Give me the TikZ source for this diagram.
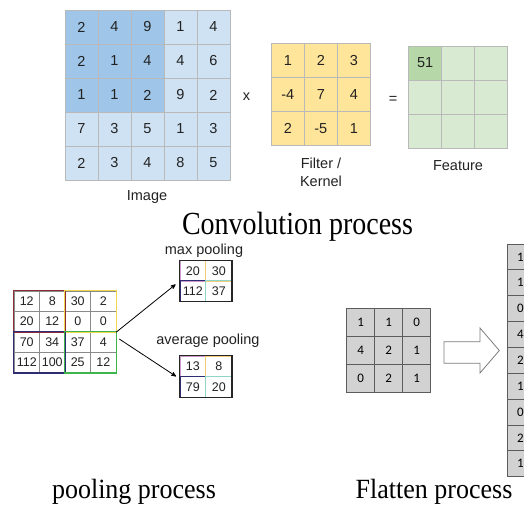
\documentclass[tikz,border=0pt]{standalone}
\usepackage{fontspec}
\setmainfont{Liberation Serif}
\setsansfont{Liberation Sans}
\newfontfamily\calibri{Carlito}
\usepackage{tikz}
\usetikzlibrary{arrows}

\definecolor{imgdark}{HTML}{9FC5E8}
\definecolor{imglight}{HTML}{CFE2F3}
\definecolor{filtyel}{HTML}{FFE599}
\definecolor{featlight}{HTML}{D9EAD3}
\definecolor{featdark}{HTML}{B6D7A8}
\definecolor{gridgray}{HTML}{B9B9B9}
\definecolor{txtgray}{HTML}{222222}
\definecolor{poolred}{HTML}{8E2C3A}
\definecolor{poolyel}{HTML}{F0D64C}
\definecolor{poolblue}{HTML}{2F2C74}
\definecolor{poolgreen}{HTML}{3DB54A}
\definecolor{mpink}{HTML}{C99AC9}
\definecolor{myel}{HTML}{F2CC7A}
\definecolor{mteal}{HTML}{8FD6C8}
\definecolor{poolline}{HTML}{8A8A8A}
\definecolor{flatgray}{HTML}{D2D2D2}
\definecolor{flatline}{HTML}{5C5C5C}

\tikzset{
  convcell/.style={draw=gridgray, line width=0.8pt, minimum width=33pt, minimum height=34pt,
    inner sep=0pt, text=txtgray, font=\sffamily\fontsize{14.5}{16}\selectfont},
  lbl/.style={inner sep=0.75pt, text=txtgray, font=\sffamily\fontsize{14.5}{18}\selectfont},
  poolcell/.style={draw=poolline, line width=0.6pt, minimum width=25.5pt, minimum height=20.4pt,
    inner sep=0pt, text=txtgray, font=\sffamily\fontsize{12.5}{14}\selectfont},
  smallcell/.style={line width=0.8pt, minimum width=25.85pt, minimum height=20.4pt,
    inner sep=0pt, text=txtgray, font=\sffamily\fontsize{12.5}{14}\selectfont},
  quad/.style={line width=1.3pt},
  flatcell/.style={draw=flatline, fill=flatgray, line width=0.8pt, minimum width=28pt,
    minimum height=28pt, inner sep=0pt, font=\calibri\fontsize{13}{15}\selectfont},
  colcell/.style={flatcell, minimum width=26pt, minimum height=25.85pt},
  caption/.style={inner sep=0.75pt, font=\fontsize{26}{30}\selectfont}
}

\begin{document}
\begin{tikzpicture}[x=1pt,y=1pt,yscale=-1,xscale=1]
\useasboundingbox (0,0) rectangle (524,512);
\clip (0,0) rectangle (524,512);

%Shape: Grid [image]
\foreach \row [count=\r] in {{2,4,9,1,4},{2,1,4,4,6},{1,1,2,9,2},{7,3,5,1,3},{2,3,4,8,5}}{
  \foreach \v [count=\c] in \row {
    \def\cellfill{imglight}
    \ifnum\r<4 \ifnum\c<4 \def\cellfill{imgdark}\fi\fi
    \draw (65+33*\c-16.5,10+34*\r-17) node [convcell, fill=\cellfill] (img-\r-\c) {\v};
  }
}
%Shape: Grid [filter]
\foreach \row [count=\r] in {{1,2,3},{-4,7,4},{2,-5,1}}{
  \foreach \v [count=\c] in \row {
    \draw (271.3+33*\c-16.5,43.5+34*\r-17) node [convcell, fill=filtyel] (filt-\r-\c) {\v};
  }
}
%Shape: Grid [feature]
\foreach \r in {1,2,3}{
  \foreach \c in {1,2,3}{
    \draw (408.7+33*\c-16.5,46+34*\r-17) node [convcell, fill=featlight] (feat-\r-\c) {};
  }
}
\draw (feat-1-1.center) node [convcell, fill=featdark] (feat-first) {51};

% Text Node
\draw (147,197) node [lbl] (imglbl) {Image};
% Text Node
\draw (246.5,97) node [lbl] (times) {x};
% Text Node
\draw (321,172) node [lbl, align=center] (filtlbl) {Filter /\\Kernel};
% Text Node
\draw (393,100) node [lbl] (eq) {=};
% Text Node
\draw (458,166) node [lbl] (featlbl) {Feature};
% Text Node
\draw (297.5,227) node [caption, font=\fontsize{28}{32}\selectfont] (convcap) {\scalebox{1}[1.15]{Convolution process}};

%Shape: Grid [pooling input]
\foreach \row [count=\r] in {{12,8,30,2},{20,12,0,0},{70,34,37,4},{112,100,25,12}}{
  \foreach \v [count=\c] in \row {
    \draw (14+25.5*\c-12.75,291+20.4*\r-10.2) node [poolcell] (pool-\r-\c) {\v};
  }
}
\draw [quad, poolred] (pool-1-1.north west) rectangle (pool-2-2.south east);
\draw [quad, poolyel] (pool-1-3.north west) rectangle (pool-2-4.south east);
\draw [quad, poolblue] (pool-3-1.north west) rectangle (pool-4-2.south east);
\draw [quad, poolgreen] (pool-3-3.north west) rectangle (pool-4-4.south east);

%Shape: Grid [max pooling]
\foreach \v/\col [count=\i] in {20/mpink,30/myel,112/poolblue,37/mteal}{
  \pgfmathtruncatemacro\r{(\i-1)/2+1}
  \pgfmathtruncatemacro\c{mod(\i-1,2)+1}
  \draw (180+25.85*\c-12.93,260.7+20.2*\r-10.1) node [smallcell, draw=\col] (maxp-\r-\c) {\v};
}
\draw [quad, black!85] (maxp-1-1.north west) rectangle (maxp-2-2.south east);
%Shape: Grid [average pooling]
\foreach \v/\col [count=\i] in {13/mpink,8/myel,79/poolblue,20/mteal}{
  \pgfmathtruncatemacro\r{(\i-1)/2+1}
  \pgfmathtruncatemacro\c{mod(\i-1,2)+1}
  \draw (180+25.85*\c-12.93,356+20.65*\r-10.33) node [smallcell, draw=\col] (avgp-\r-\c) {\v};
}
\draw [quad, black!85] (avgp-1-1.north west) rectangle (avgp-2-2.south east);

% Text Node
\draw (204,251) node [lbl] (maxlbl) {max pooling};
% Text Node
\draw (208,341) node [lbl] (avglbl) {average pooling};

%Straight Lines
\draw [-stealth', line width=0.8pt] (pool-2-4.south east) -- ([shift={(-4,4)}]maxp-2-1.north west);
%Straight Lines
\draw [-stealth', line width=0.8pt] ([shift={(3,-3)}]pool-3-4.east) -- ([xshift=-3.5pt]avgp-2-1.north west);

%Shape: Grid [flatten input]
\foreach \row [count=\r] in {{1,1,0},{4,2,1},{0,2,1}}{
  \foreach \v [count=\c] in \row {
    \draw (346.7+28*\c-14,308.3+28*\r-14) node [flatcell] (flat-\r-\c) {\v};
  }
}
%Shape: Block Arrow
\draw [flatline!80, line width=0.8pt, fill=white] (444,341.7) -- (480,341.7) -- (480,328) -- (499.3,350.5)
  -- (480,373) -- (480,363.3) -- (444,363.3) -- cycle;
%Shape: Column [flattened]
\foreach \v [count=\r] in {1,1,0,4,2,1,0,2,1}{
  \draw (507.3+13,244+25.85*\r-12.93) node [colcell] (col-\r) {\v};
}

% Text Node
\draw (134,492) node [caption] (poolcap) {\scalebox{1}[1.07]{pooling process}};
% Text Node
\draw (434,492) node [caption] (flatcap) {\scalebox{1}[1.07]{Flatten process}};

\end{tikzpicture}
\end{document}
